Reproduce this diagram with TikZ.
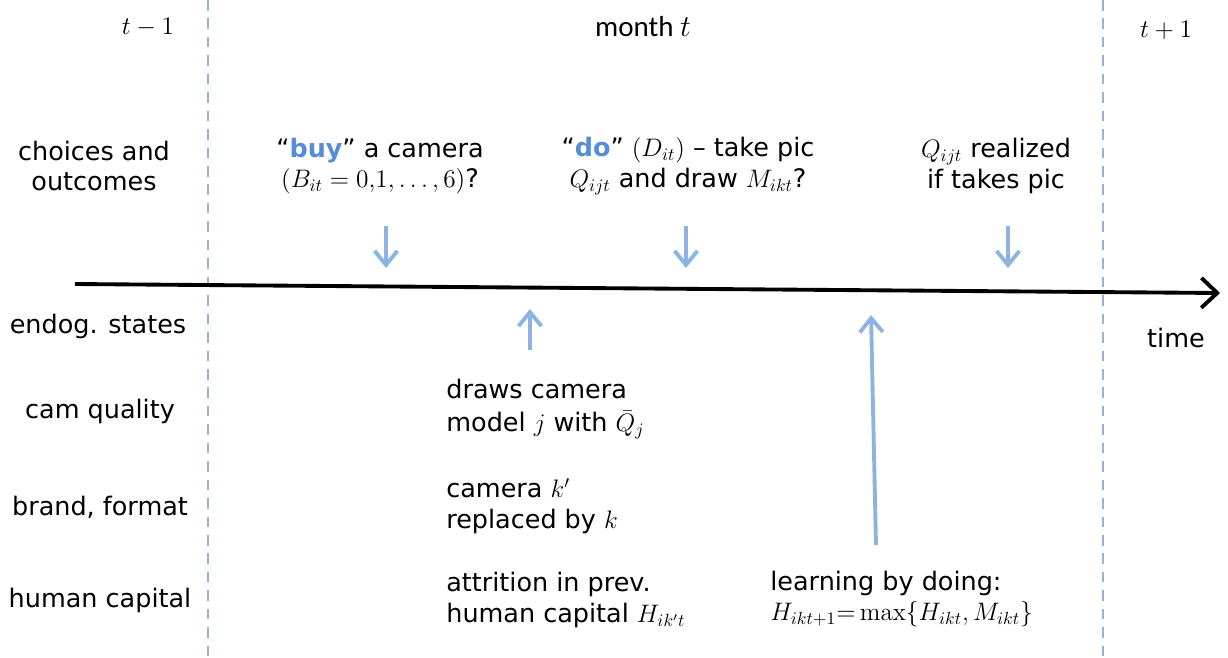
\documentclass[tikz,border=0pt]{standalone}
\usepackage[no-math]{fontspec}
\setmainfont{DejaVu Sans}
\newfontfamily\narrowfont{Carlito}
\usetikzlibrary{arrows.meta}
\definecolor{lineblue}{RGB}{149,179,215}
\definecolor{arrowblue}{RGB}{141,179,226}
\definecolor{keyblue}{RGB}{85,142,213}
\tikzset{
  lbl/.style={font=\fontsize{14.5}{17.6}\selectfont, inner sep=0pt, align=center},
  txt/.style={font=\fontsize{14.5}{17.6}\selectfont, inner sep=0pt, align=left, anchor=west},
  period/.style={inner sep=0pt, font=\fontsize{15.5}{18}\selectfont},
  divider/.style={lineblue, line width=1.4pt, dash pattern=on 6pt off 4.5pt},
  flow/.style={arrowblue, line width=2.2pt, -{Straight Barb[length=8pt,width=13pt,line width=2.2pt]}},
  axis/.style={black, line width=2.2pt, -{Straight Barb[length=9pt,width=17pt,line width=2.2pt]}}
}
\newcommand{\kw}[1]{\textcolor{keyblue}{\textbf{#1}}}
\begin{document}
\begin{tikzpicture}[x=0.02cm, y=-0.02cm]
\useasboundingbox (0,0) rectangle (1228,657);

% period boundaries
\coordinate (d1a) at (208,0);   \coordinate (d1b) at (208,657);
\coordinate (d2a) at (1103,0);  \coordinate (d2b) at (1103,657);
\draw[divider] (d1a) -- (d1b);
\draw[divider] (d2a) -- (d2b);

% period headings
\node[period] (prev) at (148,27) {$t-1$};
\node[period] (cur)  at (643,27) {\narrowfont\fontsize{16.5}{19}\selectfont month $t$};
\node[period] (next) at (1166,30) {$t+1$};

% time axis
\coordinate (ax0) at (75,284);
\coordinate (ax1) at (1220,293);
\draw[axis] (ax0) -- (ax1);
\node[lbl] (time) at (1176,338) {time};

% row labels
\node[lbl] (rchoice) at (94,166) {choices and\\outcomes};
\node[lbl] (rstate)  at (98,326) {endog. states};
\node[lbl] (rqual)   at (100,411) {cam quality};
\node[lbl] (rbrand)  at (100,507) {brand, format};
\node[lbl] (rhuman)  at (100,600) {human capital};

% choices and outcomes within the month
\node[lbl] (buy) at (380,166) {“\kw{buy}” a camera\\$(B_{it}=0{,}1,\ldots,6)$?};
\node[lbl] (do)  at (688,166) {“\kw{do}” $(D_{it})$ – take pic\\$Q_{ijt}$ and draw $M_{ikt}$?};
\node[lbl] (real) at (996,166) {$Q_{ijt}$ realized\\if takes pic};

\coordinate (a1s) at (386,226); \coordinate (a1e) at (386,268);
\coordinate (a2s) at (686,226); \coordinate (a2e) at (686,268);
\coordinate (a3s) at (1008,226); \coordinate (a3e) at (1008,268);
\draw[flow] (a1s) -- (a1e);
\draw[flow] (a2s) -- (a2e);
\draw[flow] (a3s) -- (a3e);

% state transitions
\node[txt] (qual)  at (446,409) {draws camera\\[1pt]model $j$ with $\bar{Q}_j$};
\node[txt] (brand) at (446,506) {camera $k'$\\replaced by $k$};
\node[txt] (attr)  at (446,600) {attrition in prev.\\human capital $H_{ik't}$};
\node[txt] (learn) at (770,599) {learning by doing:\\$H_{ikt+1}{=}\max\{H_{ikt},M_{ikt}\}$};

\coordinate (u1s) at (530,350); \coordinate (u1e) at (530,309);
\coordinate (u2s) at (876,545); \coordinate (u2e) at (871,315);
\draw[flow] (u1s) -- (u1e);
\draw[flow] (u2s) -- (u2e);
\end{tikzpicture}
\end{document}
